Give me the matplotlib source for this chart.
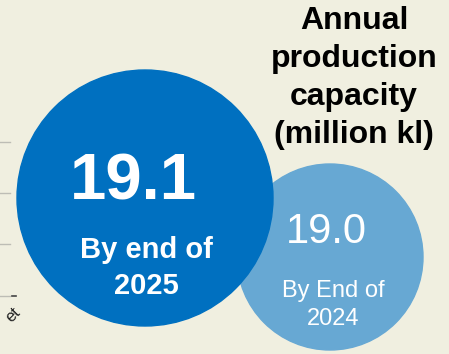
import matplotlib.pyplot as plt
from matplotlib.patches import Circle

plt.rcParams['font.family'] = ['Liberation Sans', 'DejaVu Sans']

# capacity values and labels
values = [19.1, 19.0]
labels = ["By end of\n2025", "By End of\n2024"]
title = "Annual\nproduction\ncapacity\n(million kl)"

# layout (pixel coords, y downwards)
centers = [(145, 198), (330, 257)]
radii = [128, 93]
colors = ["#0070C0", "#67A8D3"]

fig = plt.figure(figsize=(4.49, 3.54), dpi=100)
fig.patch.set_facecolor("#F0EFE0")
ax = fig.add_axes([0, 0, 1, 1])
ax.set_xlim(0, 449)
ax.set_ylim(354, 0)
ax.set_aspect("equal")
ax.axis("off")

# faint leftover gridlines on the left edge
for y in [142, 193, 244, 296]:
    ax.plot([0, 10], [y, y], color="#BDBDB5", lw=1)
ax.plot([12, 16], [296, 296], color="#444444", lw=1.2)
ax.text(13, 315, "et", fontsize=12, rotation=45, ha="center", va="center", color="#222222")

# small circle first, big one on top
ax.add_patch(Circle(centers[1], radii[1], color=colors[1], zorder=2))
ax.add_patch(Circle(centers[0], radii[0], color=colors[0], zorder=3))

ax.text(133, 182, f"{values[0]:.1f}", fontsize=47, fontweight="bold", color="white",
        ha="center", va="center", zorder=4)
ax.text(146, 268, labels[0], fontsize=21, fontweight="bold", color="white",
        ha="center", va="center", linespacing=1.35, zorder=4)

ax.text(326, 232, f"{values[1]:.1f}", fontsize=30, color="white",
        ha="center", va="center", zorder=4)
ax.text(333, 305, labels[1], fontsize=17, color="white",
        ha="center", va="center", linespacing=1.3, zorder=4)

ax.text(354, 78, title, fontsize=23, fontweight="bold", color="black",
        ha="center", va="center", linespacing=1.35, zorder=4)

fig.savefig("out.png", dpi=100, facecolor=fig.get_facecolor())
